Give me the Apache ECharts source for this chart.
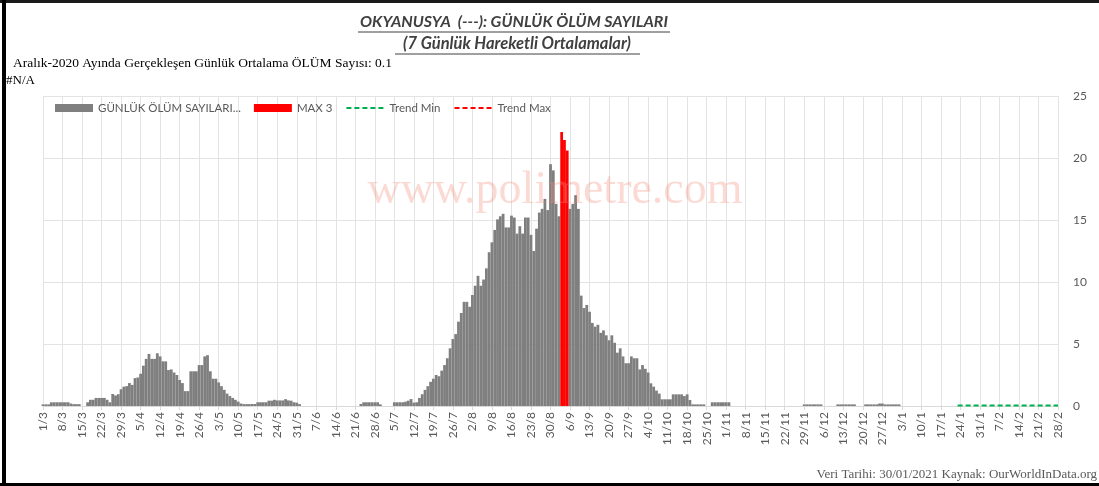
<!DOCTYPE html>
<html>
<head>
<meta charset="utf-8">
<script src="https://cdn.jsdelivr.net/npm/echarts@6/dist/echarts.min.js"></script>
<style>
html,body{margin:0;padding:0;background:#fff;}
#chart{width:1099px;height:486px;}
</style>
</head>
<body>
<div id="chart"></div>
<script>
// ---- DATA ----
var startDate = '2020-03-01';   // first category (1/3)
var dayCount = 365;             // 1/3/2020 .. 28/2/2021

// 7-day moving average of daily deaths, one value per day (weeks per line)
var dailyDeaths = [
  0.13,0.13,0.13,0.3,0.3,0.3,0.3,
  0.3,0.3,0.3,0.2,0.15,0.15,0.15,
  0,0,0.3,0.5,0.5,0.65,0.65,
  0.65,0.65,0.5,0.3,0.97,0.85,0.95,
  1.35,1.56,1.6,1.85,1.7,2.25,2.3,
  2.6,3.25,3.8,4.2,3.8,3.8,4.25,
  4.0,3.6,3.6,2.9,2.95,2.7,2.5,
  2.1,1.85,1.2,1.2,2.8,2.8,2.8,
  3.3,3.3,4.0,4.1,2.8,2.2,2.2,
  1.9,1.6,1.3,1.0,0.8,0.65,0.5,
  0.35,0.2,0.15,0.15,0.15,0.16,0.16,
  0.3,0.3,0.3,0.3,0.43,0.43,0.5,
  0.45,0.45,0.45,0.55,0.45,0.43,0.3,
  0.27,0.15,0,0,0,0,0,
  0,0,0,0,0,0,0,
  0,0,0,0,0,0,0,
  0,0,0.16,0.3,0.3,0.3,0.3,
  0.3,0.3,0.13,0,0,0,0,
  0.3,0.3,0.3,0.3,0.35,0.43,0.56,
  0.27,0.3,0.65,0.95,1.3,1.6,1.95,
  2.2,2.5,2.4,2.85,3.3,3.85,4.65,
  5.4,5.8,6.8,7.5,8.4,8.4,8.0,
  8.95,9.7,10.5,9.7,10.2,11.1,12.4,
  13.2,14.2,15.05,15.3,15.5,14.4,14.4,
  15.35,15.2,13.9,14.5,13.9,15.2,15.2,
  13.8,12.5,14.3,15.6,15.9,16.7,15.8,
  19.5,19.0,16.3,15.3,22.1,21.45,20.6,
  15.9,16.3,17.0,15.9,8.9,7.9,8.15,
  7.6,6.7,6.4,6.55,5.9,6.1,5.7,
  5.3,5.7,5.1,4.3,4.65,4.0,3.45,
  3.45,4.0,3.85,3.85,2.95,3.3,3.0,
  2.7,1.83,1.56,1.24,1.0,0.54,0.54,
  0.54,0.54,0.94,0.94,0.94,0.94,0.8,
  0.94,0.48,0.13,0.13,0.13,0.13,0.13,
  0,0,0.3,0.3,0.3,0.3,0.3,
  0.3,0.3,0,0,0,0,0,
  0,0,0,0,0,0,0,
  0,0,0,0,0,0,0,
  0,0,0,0,0,0,0,
  0.13,0.13,0.13,0.13,0.13,0.13,0.13,
  0,0,0,0,0,0.13,0.13,
  0.13,0.13,0.13,0.13,0.13,0,0,
  0,0.13,0.13,0.13,0.13,0.13,0.2,
  0.2,0.13,0.13,0.13,0.13,0.13,0.13,
  0,0,0,0,0,0,0,
  0,0,0,0,0,0,0,
  0,0,0,0,0,0,0,
  0,0,0,0,0,0,0
];

var trendMinValue = 0.05;
var trendMinFrom = '23/1';
var trendMaxValues = [];

var yTicks = [0, 5, 10, 15, 20, 25];

var titleLine1 = 'OKYANUSYA  (---): GÜNLÜK ÖLÜM SAYILARI';
var titleLine2 = '(7 Günlük Hareketli Ortalamalar)';
var noteText = 'Aralık-2020 Ayında Gerçekleşen Günlük Ortalama ÖLÜM Sayısı: 0.1';
var naText = '#N/A';
var sourceText = 'Veri Tarihi: 30/01/2021 Kaynak: OurWorldInData.org';
var watermark = 'www.polimetre.com';
var seriesNames = ['GÜNLÜK ÖLÜM SAYILARI...', 'MAX 3', 'Trend Min', 'Trend Max'];

// ---- BUILD ----
var categories = [];
var t0 = Date.parse(startDate + 'T00:00:00Z');
for (var i = 0; i < dayCount; i++) {
  var d = new Date(t0 + i * 86400000);
  categories.push(d.getUTCDate() + '/' + (d.getUTCMonth() + 1));
}

// top-3 days
var idx = dailyDeaths.map(function (v, i) { return i; })
  .sort(function (a, b) { return dailyDeaths[b] - dailyDeaths[a]; }).slice(0, 3);
var maxData = dailyDeaths.map(function (v, i) { return idx.indexOf(i) >= 0 ? v : null; });
var greyData = dailyDeaths.map(function (v, i) { return idx.indexOf(i) >= 0 ? null : v; });
while (greyData.length < dayCount) greyData.push(null);

var fromIdx = categories.indexOf(trendMinFrom);
var trendMinData = categories.map(function (c, i) { return i >= fromIdx ? trendMinValue : null; });

var font = 'Lato, "Noto Sans", sans-serif';
var serif = '"Liberation Serif", "DejaVu Serif", serif';

var chart = echarts.init(document.getElementById('chart'), null, {renderer: 'canvas'});
chart.setOption({
  animation: false,
  backgroundColor: '#ffffff',
  grid: {left: 43, right: 41, top: 96, bottom: 80, containLabel: false},
  legend: {
    left: 50, top: 97,
    itemWidth: 38, itemHeight: 8, itemGap: 13,
    textStyle: {
      color: '#595959', fontSize: 11.5, fontFamily: font,
      rich: {
        w1: {width: 46, color: '#595959', fontSize: 11.5, fontFamily: font},
        w2: {width: 67, color: '#595959', fontSize: 11.5, fontFamily: font}
      }
    },
    formatter: function (name) {
      if (name === seriesNames[1]) return '{w1|' + name + '}';
      if (name === seriesNames[2]) return '{w2|' + name + '}';
      return name;
    },
    data: [
      {name: seriesNames[0], icon: 'rect'},
      {name: seriesNames[1], icon: 'rect'},
      {name: seriesNames[2], itemStyle: {opacity: 0}},
      {name: seriesNames[3], itemStyle: {opacity: 0}}
    ]
  },
  xAxis: {
    type: 'category',
    data: categories,
    boundaryGap: false,
    axisLine: {lineStyle: {color: '#d9d9d9'}},
    axisTick: {show: true, interval: 6, length: 4, lineStyle: {color: '#d9d9d9'}},
    axisLabel: {interval: 6, rotate: 90, color: '#595959', fontSize: 12, fontFamily: font, margin: 6},
    splitLine: {show: true, interval: 6, lineStyle: {color: '#e3e3e3', width: 1}}
  },
  yAxis: {
    type: 'value',
    position: 'right',
    min: yTicks[0], max: yTicks[yTicks.length - 1], interval: 5,
    axisLine: {show: false}, axisTick: {show: false},
    axisLabel: {color: '#595959', fontSize: 12, fontFamily: font, margin: 15},
    splitLine: {lineStyle: {color: '#e3e3e3', width: 1}}
  },
  series: [
    {name: seriesNames[0], type: 'bar', data: greyData, barCategoryGap: '18%',
     itemStyle: {color: '#7f7f7f'}},
    {name: seriesNames[1], type: 'bar', data: maxData, barGap: '-100%', barCategoryGap: '0%',
     itemStyle: {color: '#ff0000'}},
    {name: seriesNames[2], type: 'line', data: trendMinData, symbol: 'none',
     lineStyle: {color: '#00b050', width: 2, type: [5, 3]}, itemStyle: {color: '#00b050'}},
    {name: seriesNames[3], type: 'line', data: trendMaxValues, symbol: 'none',
     lineStyle: {color: '#ff0000', width: 2, type: [5, 3]}, itemStyle: {color: '#ff0000'}}
  ],
  graphic: [
    {type: 'text', x: 555, y: 191, z: 100, silent: true,
     style: {text: watermark, font: '46px ' + serif, fill: 'rgba(245,140,120,0.32)', align: 'center', verticalAlign: 'middle'}},
    {type: 'text', x: 514, y: 22, z: 10,
     style: {text: titleLine1, font: 'italic bold 16px ' + font, fill: '#404040', align: 'center', verticalAlign: 'middle'}},
    {type: 'text', x: 517, y: 44, z: 10,
     style: {text: titleLine2, font: 'italic bold 16.5px ' + font, fill: '#404040', align: 'center', verticalAlign: 'middle'}},
    {type: 'line', shape: {x1: 358, y1: 32, x2: 670, y2: 32}, style: {stroke: '#404040', lineWidth: 1}},
    {type: 'line', shape: {x1: 395, y1: 54, x2: 640, y2: 54}, style: {stroke: '#404040', lineWidth: 1}},
    {type: 'text', x: 13, y: 63,
     style: {text: noteText, font: '13.5px ' + serif, fill: '#000', verticalAlign: 'middle'}},
    {type: 'text', x: 6, y: 81,
     style: {text: naText, font: '13px ' + serif, fill: '#000', verticalAlign: 'middle'}},
    {type: 'text', x: 1097, y: 475,
     style: {text: sourceText, font: '13px ' + serif, fill: '#595959', align: 'right', verticalAlign: 'middle'}},
    {type: 'rect', shape: {x: 0, y: 0, width: 1099, height: 3}, style: {fill: '#1a1a1a'}},
    {type: 'rect', shape: {x: 2, y: 0, width: 4, height: 486}, style: {fill: '#000'}},
    {type: 'rect', shape: {x: 0, y: 483, width: 1099, height: 3}, style: {fill: '#000'}}
  ]
});
</script>
</body>
</html>
